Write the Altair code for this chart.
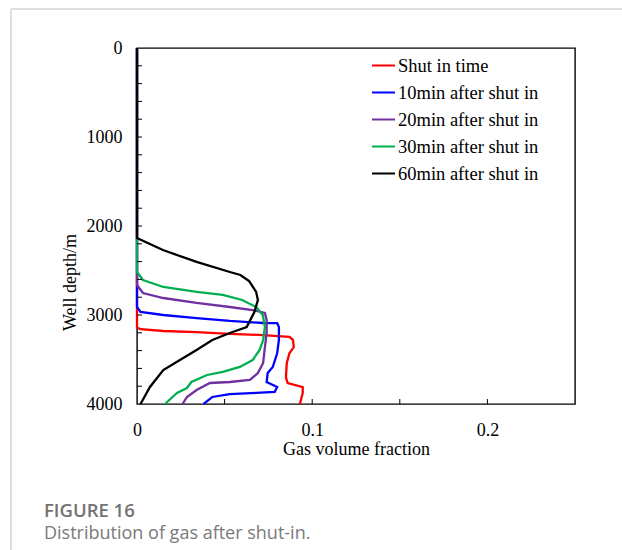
import altair as alt
import pandas as pd

series_names = ["Shut in time", "10min after shut in", "20min after shut in",
                "30min after shut in", "60min after shut in"]
series_colors = ["#ff0000", "#0000ff", "#7030a0", "#00b050", "#000000"]

red_x = [0, 0, 0.002, 0.015, 0.034, 0.053, 0.072, 0.087, 0.089, 0.0895, 0.087, 0.0855, 0.085, 0.086, 0.0946, 0.0946, 0.093]
red_depth = [0, 3140, 3160, 3180, 3192, 3212, 3225, 3245, 3280, 3360, 3430, 3540, 3700, 3765, 3810, 3876, 4000]

blue_x = [0, 0, 0.002, 0.015, 0.034, 0.053, 0.072, 0.080, 0.081, 0.081, 0.080, 0.0775, 0.0746, 0.074, 0.080, 0.0786, 0.068, 0.053, 0.043, 0.038]
blue_depth = [0, 2910, 2966, 3000, 3034, 3067, 3090, 3092, 3135, 3280, 3430, 3584, 3652, 3753, 3809, 3865, 3876, 3888, 3921, 4000]

purple_x = [0, 0, 0.0034, 0.015, 0.034, 0.053, 0.066, 0.073, 0.074, 0.074, 0.073, 0.072, 0.069, 0.0644, 0.053, 0.0416, 0.034, 0.0285, 0.026]
purple_depth = [0, 2663, 2753, 2809, 2865, 2910, 2944, 2977, 3056, 3202, 3360, 3539, 3652, 3730, 3753, 3764, 3843, 3921, 4000]

green_x = [0, 0, 0.0034, 0.015, 0.034, 0.049, 0.060, 0.068, 0.0718, 0.073, 0.072, 0.070, 0.066, 0.0587, 0.049, 0.040, 0.031, 0.0285, 0.0228, 0.016]
green_depth = [0, 2517, 2607, 2685, 2741, 2775, 2831, 2910, 3000, 3135, 3281, 3393, 3506, 3584, 3640, 3674, 3753, 3820, 3876, 4000]

black_x = [0, 0, 0.0148, 0.034, 0.053, 0.059, 0.064, 0.068, 0.069, 0.067, 0.0626, 0.053, 0.043, 0.034, 0.0245, 0.015, 0.0074, 0.002]
black_depth = [0, 2135, 2270, 2404, 2517, 2550, 2620, 2740, 2831, 2966, 3135, 3202, 3281, 3393, 3506, 3618, 3809, 4000]

x_label_values = [0, 0.1, 0.2]
x_tick_values = [0.05, 0.1, 0.15, 0.2]
y_label_values = [0, 1000, 2000, 3000, 4000]
y_tick_values = list(range(200, 4000, 200))

caption_title = "FIGURE 16"
caption_text = "Distribution of gas after shut-in."

rows = []
for name, xs, ds in zip(series_names,
                        [red_x, blue_x, purple_x, green_x, black_x],
                        [red_depth, blue_depth, purple_depth, green_depth, black_depth]):
    for i, (xv, dv) in enumerate(zip(xs, ds)):
        rows.append({"series": name, "gvf": xv, "depth": dv, "idx": i})
df = pd.DataFrame(rows)

W, H = 438, 356
SERIF = "Liberation Serif"

xscale = alt.Scale(domain=[0, 0.25], nice=False, zero=False)
yscale = alt.Scale(domain=[0, 4000], reverse=True, nice=False)

lines = alt.Chart(df).mark_line(strokeWidth=2.3).encode(
    x=alt.X("gvf:Q", scale=xscale,
            axis=alt.Axis(title="Gas volume fraction", values=x_label_values, format="~g",
                          ticks=False, domain=False, grid=False, labelPadding=17,
                          labelFlush=False,
                          labelFont=SERIF, labelFontSize=18, labelColor="black",
                          titleFont=SERIF, titleFontSize=18, titleFontWeight="normal",
                          titleColor="black", titleY=45, titleBaseline="middle")),
    y=alt.Y("depth:Q", scale=yscale,
            axis=alt.Axis(title="Well depth/m", values=y_label_values, format="d",
                          ticks=False, domain=False, grid=False, labelPadding=15,
                          labelFlush=False,
                          labelFont=SERIF, labelFontSize=18, labelColor="black",
                          titleFont=SERIF, titleFontSize=18, titleFontWeight="normal",
                          titleColor="black", titleX=-67, titleY=234,
                          titleBaseline="middle", titleAlign="center", titleAngle=270)),
    color=alt.Color("series:N",
                    scale=alt.Scale(domain=series_names, range=series_colors),
                    legend=alt.Legend(title=None, orient="none", legendX=234, legendY=5,
                                      symbolType="stroke", symbolSize=529,
                                      symbolStrokeWidth=2, labelFont=SERIF,
                                      labelFontSize=18.5, labelColor="black",
                                      labelOffset=2, rowPadding=5)),
    order=alt.Order("idx:Q"),
)

ytick_df = pd.DataFrame({"depth": y_tick_values})
yticks = alt.Chart(ytick_df).mark_rule(color="black", strokeWidth=1).encode(
    y=alt.Y("depth:Q", scale=yscale),
    x=alt.value(0), x2=alt.value(5),
)

xtick_df = pd.DataFrame({"gvf": x_tick_values})
xticks = alt.Chart(xtick_df).mark_rule(color="black", strokeWidth=1).encode(
    x=alt.X("gvf:Q", scale=xscale),
    y=alt.value(H), y2=alt.value(H - 5),
)

frame_df = pd.DataFrame({"k": [0]})
frame_left = alt.Chart(frame_df).mark_rule(color="#d4d4d4", strokeWidth=1.5).encode(
    x=alt.value(-126), y=alt.value(-39), y2=alt.value(510))
frame_top = alt.Chart(frame_df).mark_rule(color="#d4d4d4", strokeWidth=1.5).encode(
    x=alt.value(-126), x2=alt.value(490), y=alt.value(-39))

cap1 = alt.Chart(pd.DataFrame({"t": [caption_title]})).mark_text(
    align="left", baseline="middle", font="Open Sans", fontSize=18.5,
    fontWeight=600, color="#737373").encode(
    x=alt.value(-93), y=alt.value(463), text="t:N")
cap2 = alt.Chart(pd.DataFrame({"t": [caption_text]})).mark_text(
    align="left", baseline="middle", font="Open Sans", fontSize=18,
    color="#7a7a7a").encode(
    x=alt.value(-93), y=alt.value(486), text="t:N")

chart = alt.layer(frame_left, frame_top, lines, yticks, xticks, cap1, cap2).properties(
    width=W, height=H,
    padding={"left": 137, "top": 48, "right": 47, "bottom": 146},
    autosize="none",
    background="white",
).configure_view(stroke="black", strokeWidth=1.4)

chart.save("out.html", embed_options={"renderer": "svg", "actions": False})
